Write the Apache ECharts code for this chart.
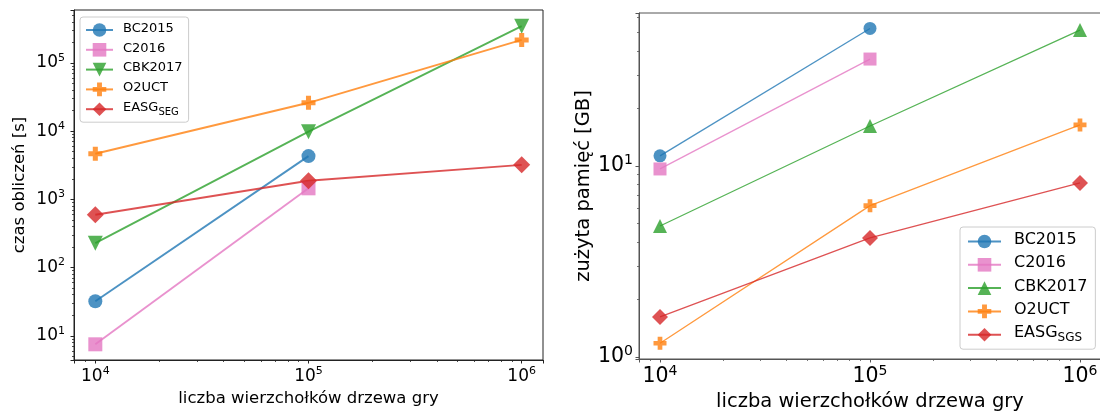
<!DOCTYPE html>
<html><head><meta charset="utf-8">
<script src="https://cdn.jsdelivr.net/npm/echarts@6/dist/echarts.min.js"></script>
<style>html,body{margin:0;padding:0;background:#fff}#c{width:1100px;height:412px}</style>
</head><body><div id="c"></div>
<script>
// x categories: number of game-tree vertices
const nodes = [1e4, 1e5, 1e6];
const seriesNamesL = ['BC2015', 'C2016', 'CBK2017', 'O2UCT', 'EASG_SEG'];
const seriesNamesR = ['BC2015 ', 'C2016 ', 'CBK2017 ', 'O2UCT ', 'EASG_SGS'];
// left: computation time [s]
const timeBC2015 = [32, 4300];
const timeC2016 = [7.5, 1450];
const timeCBK2017 = [228, 9800, 345000];
const timeO2UCT = [4650, 26000, 217000];
const timeEASG = [595, 1870, 3200];
// right: memory used [GB]
const memBC2015 = [11.3, 52.5];
const memC2016 = [9.65, 36.3];
const memCBK2017 = [4.85, 16.2, 51.5];
const memO2UCT = [1.18, 6.2, 16.4];
const memEASG = [1.62, 4.2, 8.15];
// axis ranges (log)
const xRange = [Math.pow(10, 3.9), Math.pow(10, 6.1)];
const yRangeL = [Math.pow(10, 0.645), Math.pow(10, 5.775)];
const yRangeR = [Math.pow(10, -0.0105), Math.pow(10, 1.801)];

function minorTicks(lo, hi) {
  const out = [];
  for (let e = -2; e <= 7; e++) for (let k = 2; k <= 9; k++) {
    const v = k * Math.pow(10, e);
    if (v >= lo && v <= hi) out.push(v);
  }
  return out;
}
const FONT = 'DejaVu Sans';
const colors = ['#1f77b4', '#e377c2', '#2ca02c', '#ff7f0e', '#d62728'];
const plusPath = 'path://M0.32,0H0.68V0.32H1V0.68H0.68V1H0.32V0.68H0V0.32H0.32Z';

function pow10Label(fs, lh, ss) {
  return {
    formatter: function (v) {
      const l = Math.log10(v); const e = Math.round(l);
      if (Math.abs(l - e) > 0.01) return '';
      return '{b|10}{s|' + e + '}';
    },
    rich: {
      b: { fontFamily: FONT, fontSize: fs, lineHeight: lh, color: '#000', verticalAlign: 'middle' },
      s: { fontFamily: FONT, fontSize: ss, lineHeight: ss, color: '#000', verticalAlign: 'top' }
    }
  };
}

function mainAxis(grid, range, name, gap, fs, lh, ss, margin, nameFs, lineColor) {
  return {
    type: 'log', logBase: 10, gridIndex: grid, min: range[0], max: range[1],
    name: name, nameLocation: 'middle', nameGap: gap,
    nameTextStyle: { fontFamily: FONT, fontSize: nameFs, color: '#000' },
    axisLine: { show: true, lineStyle: { color: lineColor, width: 1 } },
    axisTick: { show: true, length: 3.5, lineStyle: { color: lineColor, width: 1 } },
    axisLabel: Object.assign({ margin: margin, fontFamily: FONT }, pow10Label(fs, lh, ss)),
    splitLine: { show: false }
  };
}
function minorAxis(grid, range, lineColor, pos) {
  return {
    type: 'log', logBase: 10, gridIndex: grid, min: range[0], max: range[1], position: pos,
    axisLine: { show: false },
    axisTick: { show: true, length: 2, customValues: minorTicks(range[0], range[1]), lineStyle: { color: lineColor, width: 0.8 } },
    axisLabel: { show: false },
    splitLine: { show: false }
  };
}

const xAxis = [
  mainAxis(0, xRange, 'liczba wierzchołków drzewa gry', 30, 17, 21, 11, 6, 16.5, '#222'),
  mainAxis(1, xRange, 'liczba wierzchołków drzewa gry', 27, 20.5, 26, 14, 5, 19.5, '#555'),
  minorAxis(0, xRange, '#222', 'bottom'),
  minorAxis(1, xRange, '#555', 'bottom')
];
const yAxis = [
  mainAxis(0, yRangeL, 'czas obliczeń [s]', 46, 17, 21, 11, 9, 16.5, '#222'),
  mainAxis(1, yRangeR, 'zużyta pamięć [GB]', 42, 20.5, 26, 14, 6, 19.5, '#555'),
  minorAxis(0, yRangeL, '#222', 'left'),
  minorAxis(1, yRangeR, '#555', 'left')
];
yAxis[0].nameRotate = 90; yAxis[1].nameRotate = 90;

function pairs(vals) { return vals.map((v, i) => [nodes[i], v]); }
function mk(name, vals, idx, grid, symbol, size, rot, lw) {
  return {
    type: 'line', name: name, xAxisIndex: grid, yAxisIndex: grid,
    data: pairs(vals), symbol: symbol, symbolSize: size, symbolRotate: rot || 0,
    showAllSymbol: true, animation: false,
    lineStyle: { color: colors[idx], width: lw, opacity: 0.8 },
    itemStyle: { color: colors[idx], opacity: 0.8 },
    emphasis: { disabled: true }
  };
}
const series = [
  mk(seriesNamesL[0], timeBC2015, 0, 0, 'circle', 14, 0, 1.9),
  mk(seriesNamesL[1], timeC2016, 1, 0, 'rect', 14, 0, 1.9),
  mk(seriesNamesL[2], timeCBK2017, 2, 0, 'triangle', 15, 180, 1.9),
  mk(seriesNamesL[3], timeO2UCT, 3, 0, plusPath, 14, 0, 1.9),
  mk(seriesNamesL[4], timeEASG, 4, 0, 'diamond', 17, 0, 1.9),
  mk(seriesNamesR[0], memBC2015, 0, 1, 'circle', 13, 0, 1.3),
  mk(seriesNamesR[1], memC2016, 1, 1, 'rect', 13, 0, 1.3),
  mk(seriesNamesR[2], memCBK2017, 2, 1, 'triangle', 14, 0, 1.3),
  mk(seriesNamesR[3], memO2UCT, 3, 1, plusPath, 13, 0, 1.3),
  mk(seriesNamesR[4], memEASG, 4, 1, 'diamond', 16, 0, 1.3)
];

function legendFmt(name) {
  name = name.trim();
  if (name.indexOf('EASG_') === 0) return '{a|EASG}{s|' + name.slice(5) + '}';
  return '{a|' + name + '}';
}
function legendRich(fs, ss, drop) {
  return {
    a: { fontFamily: FONT, fontSize: fs, color: '#000', verticalAlign: 'bottom', padding: [0, 0, drop, 0] },
    s: { fontFamily: FONT, fontSize: ss, color: '#000', verticalAlign: 'bottom' }
  };
}

const option = {
  animation: false,
  backgroundColor: '#fff',
  grid: [
    { left: 74, top: 10, width: 469, height: 350, show: true, borderColor: '#222', borderWidth: 1, containLabel: false, outerBoundsMode: 'none' },
    { left: 639, top: 13, width: 462, height: 346, show: true, borderColor: '#555', borderWidth: 1, containLabel: false, outerBoundsMode: 'none' }
  ],
  xAxis: xAxis, yAxis: yAxis,
  legend: [
    {
      data: seriesNamesL, orient: 'vertical', left: 80, top: 17,
      padding: [5, 6, 5, 5], itemGap: 5, itemWidth: 27, itemHeight: 17,
      backgroundColor: 'rgba(255,255,255,0.8)', borderColor: '#ccc', borderWidth: 1, borderRadius: 3,
      formatter: legendFmt,
      textStyle: { fontFamily: FONT, fontSize: 13, color: '#000', padding: [0, 0, 0, 5], rich: legendRich(13, 10, 3) },
      selectedMode: false
    },
    {
      data: seriesNamesR, orient: 'vertical', left: 960, top: 227,
      padding: [5, 8, 5, 7], itemGap: 7, itemWidth: 33, itemHeight: 17,
      backgroundColor: 'rgba(255,255,255,0.8)', borderColor: '#ccc', borderWidth: 1, borderRadius: 3,
      formatter: legendFmt,
      textStyle: { fontFamily: FONT, fontSize: 16, color: '#000', padding: [0, 0, 0, 8], rich: legendRich(16, 12, 3) },
      selectedMode: false
    }
  ],
  series: series
};
const chart = echarts.init(document.getElementById('c'), null, { renderer: 'canvas' });
chart.setOption(option);
</script></body></html>
